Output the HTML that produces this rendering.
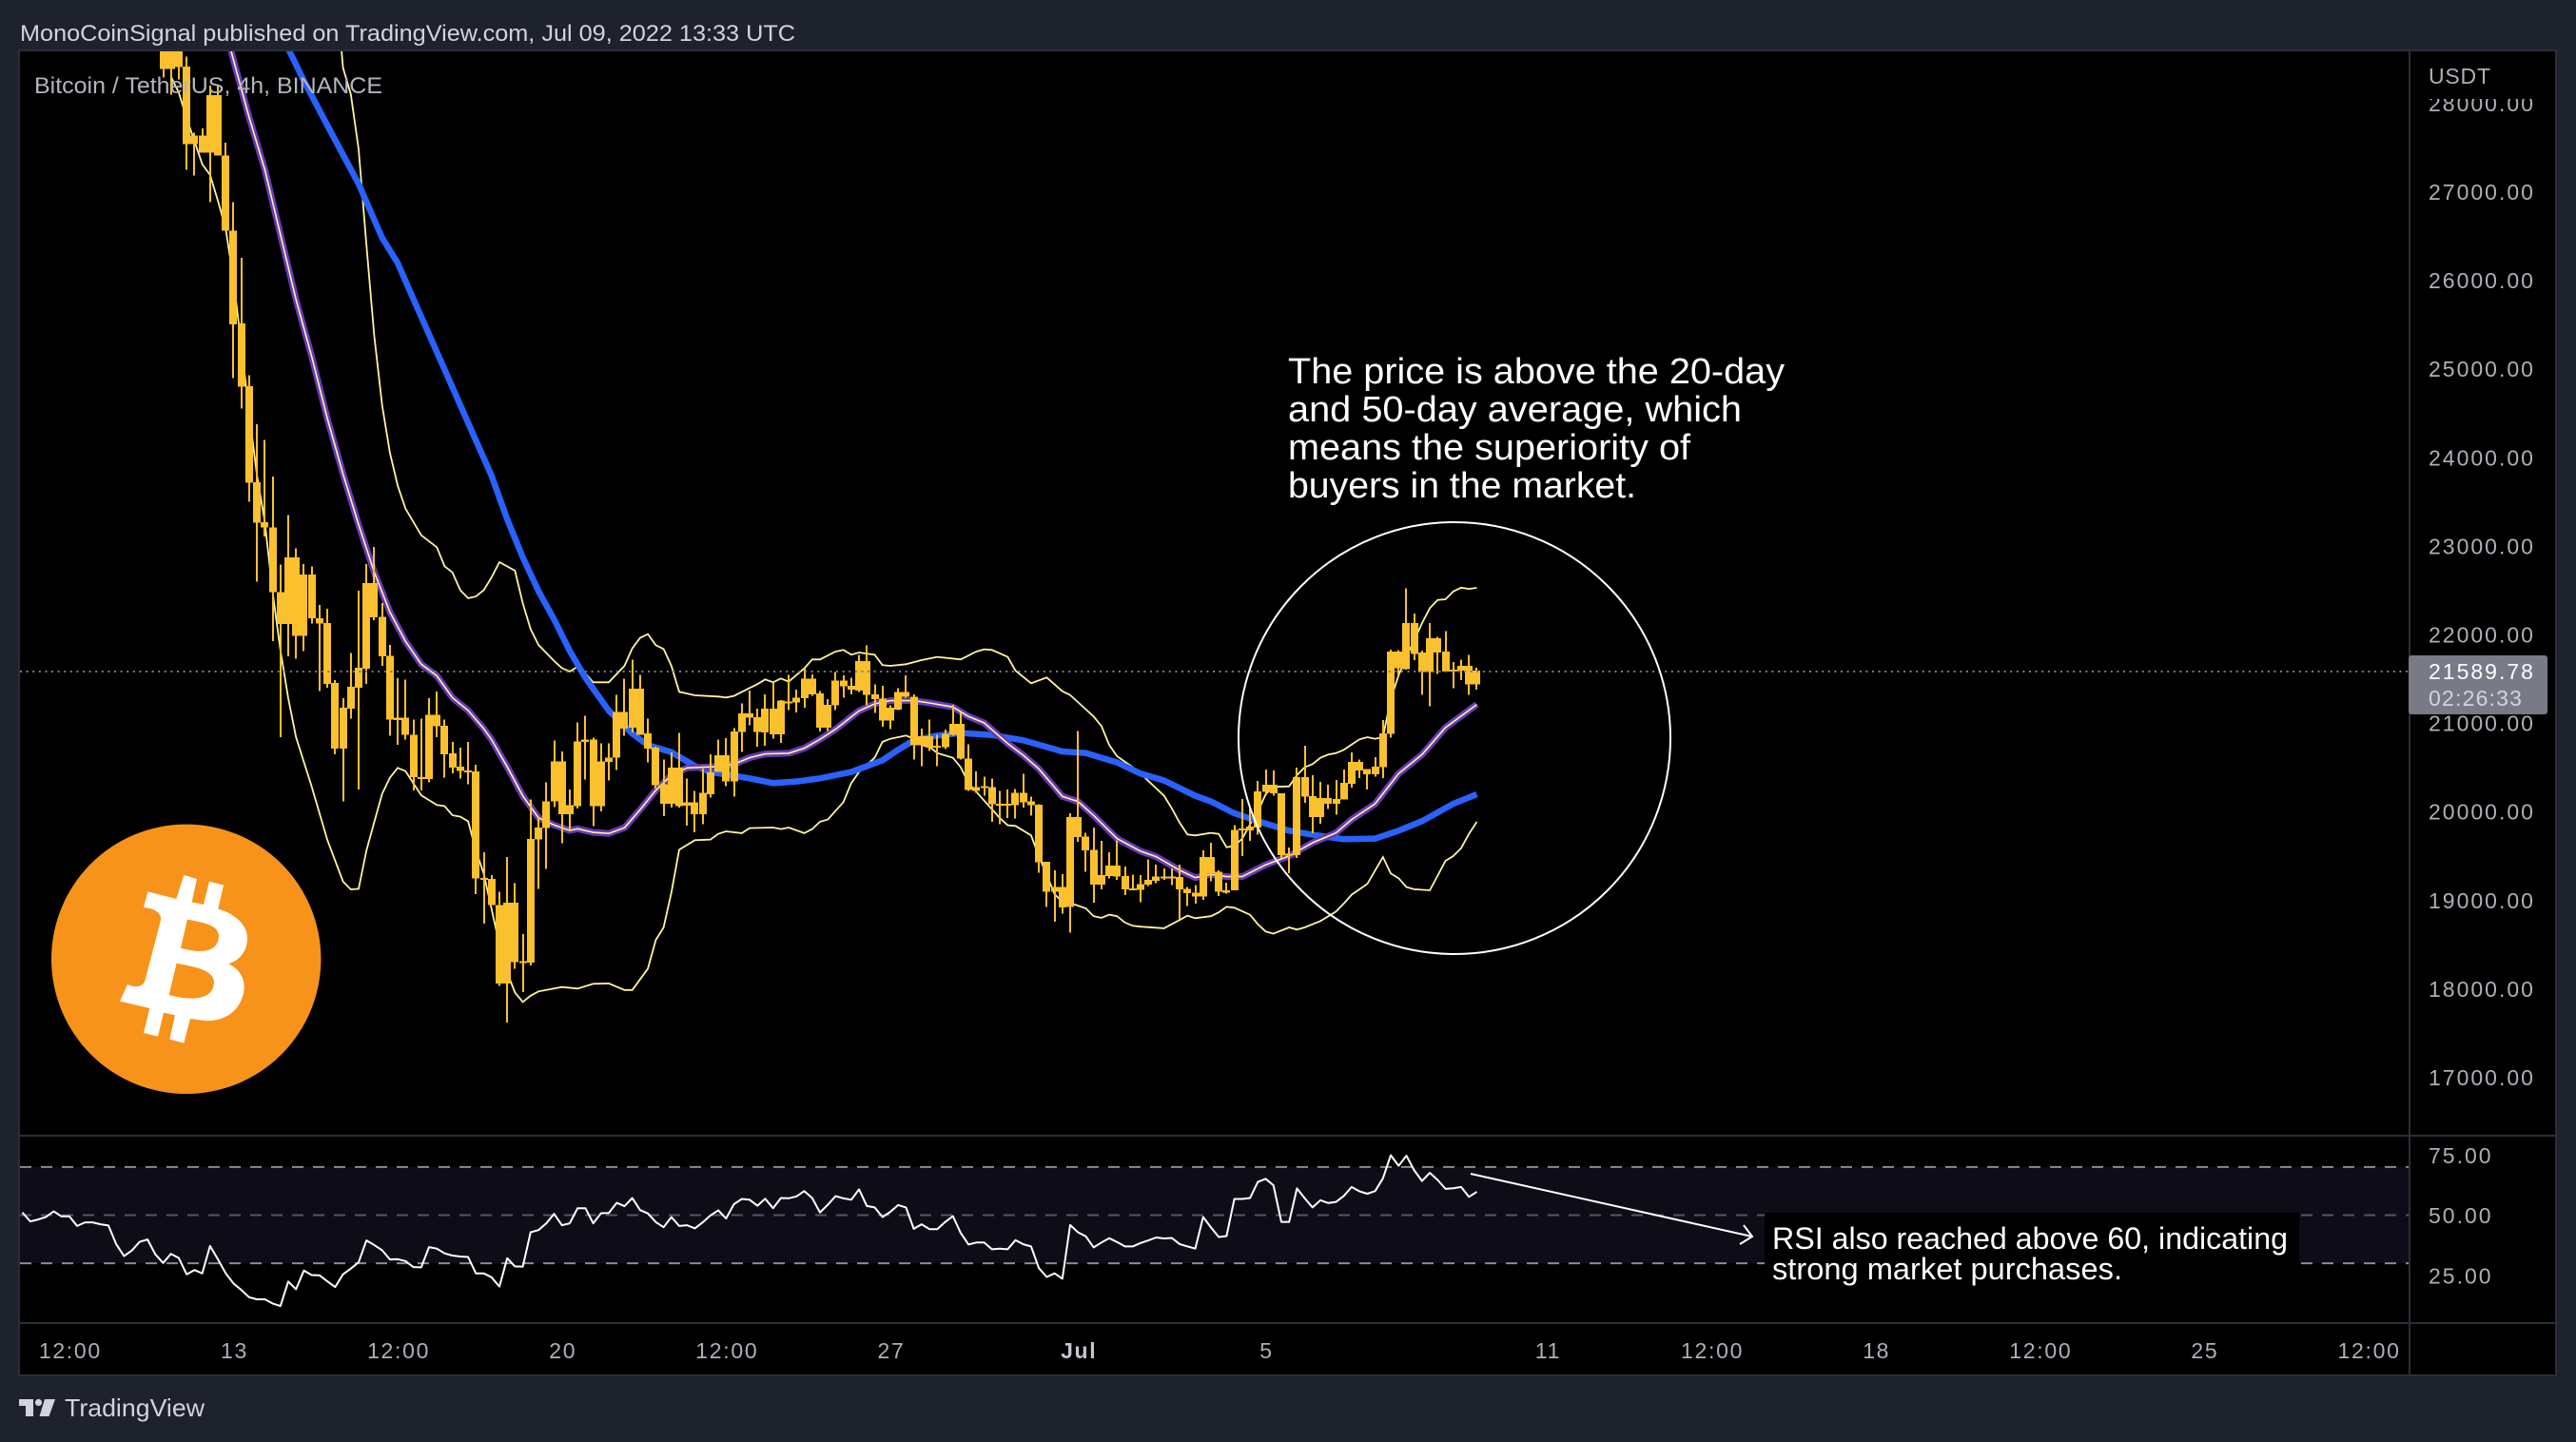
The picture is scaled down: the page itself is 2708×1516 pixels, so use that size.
<!DOCTYPE html>
<html lang="en">
<head>
<meta charset="utf-8">
<title>BTCUSDT 4h chart</title>
<style>
html,body{margin:0;padding:0;width:2708px;height:1516px;background:#1e222d;overflow:hidden}
svg{display:block;font-family:"Liberation Sans","DejaVu Sans",sans-serif}
.axis{font-size:23px;fill:#aeb0b8;letter-spacing:1.7px}
.axis-price{font-size:23px;fill:#aeb0b8;letter-spacing:2px}
.note{font-size:38px;fill:#fff}
.note2{font-size:32px;fill:#fff}
</style>
</head>
<body>
<svg id="chart" xmlns="http://www.w3.org/2000/svg" width="2708" height="1516" viewBox="0 0 2708 1516">
  <defs>
    <clipPath id="plotClip"><rect x="21" y="54" width="2512" height="1140"/></clipPath>
    <clipPath id="rsiClip"><rect x="21" y="1195" width="2512" height="196"/></clipPath>
  </defs>
  <rect x="0" y="0" width="2708" height="1516" fill="#1e222d"/>
  <text x="21" y="43" font-size="24" fill="#d1d4dc" textLength="815" lengthAdjust="spacingAndGlyphs">MonoCoinSignal published on TradingView.com, Jul 09, 2022 13:33 UTC</text>
  <rect x="20" y="53" width="2667" height="1393" fill="#000" stroke="#2a2e39" stroke-width="2"/>
  <rect x="21" y="1227" width="2512" height="101" fill="#0e0c17"/>
  <g id="rsiLevels"></g>
  <g id="lines" clip-path="url(#plotClip)"></g>
  <g id="candles" clip-path="url(#plotClip)" shape-rendering="crispEdges"></g>
  <line x1="21" y1="706" x2="2533" y2="706" stroke="#787b86" stroke-width="2" stroke-dasharray="2 4.6"/>
  <line x1="21" y1="1194" x2="2687" y2="1194" stroke="#2a2e39" stroke-width="2"/>
  <line x1="21" y1="1391" x2="2687" y2="1391" stroke="#2a2e39" stroke-width="2"/>
  <line x1="2533" y1="54" x2="2533" y2="1446" stroke="#2a2e39" stroke-width="2"/>
  <g id="priceAxis"></g>
  <rect x="2535" y="54" width="151" height="50" fill="#000"/>
  <text x="2553" y="88" font-size="23" fill="#aeb0b8" letter-spacing="0.8">USDT</text>
  <rect x="2532" y="689" width="146" height="62" rx="3" fill="#787b86"/>
  <text x="2553" y="714" font-size="23" fill="#fff" letter-spacing="2">21589.78</text>
  <text x="2553" y="742" font-size="23" fill="#d1d4dc" letter-spacing="1.2">02:26:33</text>
  <g id="rsiAxis"></g>
  <g id="timeAxis"></g>
  <text x="36" y="98" font-size="24" fill="#b2b5be" textLength="366" lengthAdjust="spacingAndGlyphs">Bitcoin / TetherUS, 4h, BINANCE</text>

  <g>
    <circle cx="195.7" cy="1008.3" r="141.7" fill="#f7931a"/>
    <path transform="translate(30 840) scale(0.3333)" fill="#fff" fill-rule="evenodd" d="M376,292 L466,315 L490,240 L531,252 L515,325 L552,333 L570,260 L615,272 L598,347 C650,362 690,395 690,440 C690,480 665,510 630,520 C665,535 682,565 680,600 C672,665 625,700 560,700 L510,693 L490,770 L445,758 L462,682 L426,674 L408,749 L363,738 L382,660 L288,638 L312,585 C335,595 362,595 368,570 L418,378 C415,355 395,345 363,342 Z M501,380 L480,470 C520,482 600,495 600,430 C598,395 540,388 501,380 Z M467,518 L443,618 C480,628 585,650 585,575 C580,535 510,528 467,518 Z"/>
  </g>

  <circle cx="1529" cy="776" r="227" fill="none" stroke="#fff" stroke-width="2"/>
  <g>
    <text class="note" x="1354" y="403" textLength="522" lengthAdjust="spacingAndGlyphs">The price is above the 20-day</text>
    <text class="note" x="1354" y="443" textLength="477" lengthAdjust="spacingAndGlyphs">and 50-day average, which</text>
    <text class="note" x="1354" y="483" textLength="423" lengthAdjust="spacingAndGlyphs">means the superiority of</text>
    <text class="note" x="1354" y="523" textLength="366" lengthAdjust="spacingAndGlyphs">buyers in the market.</text>
  </g>

  <g fill="none" stroke="#fff" stroke-width="2">
    <line x1="1546" y1="1234" x2="1842" y2="1300"/>
    <polyline points="1833,1288 1842,1300 1829,1308"/>
  </g>
  <rect x="1855" y="1275" width="562" height="84" fill="#000"/>
  <text class="note2" x="1863" y="1313" textLength="542" lengthAdjust="spacingAndGlyphs">RSI also reached above 60, indicating</text>
  <text class="note2" x="1863" y="1345" textLength="368" lengthAdjust="spacingAndGlyphs">strong market purchases.</text>

  <g fill="#d1d4dc">
    <path d="M20,1471 H35 V1489 H27 V1478 H20 Z"/>
    <circle cx="40.5" cy="1474.5" r="3.6"/>
    <path d="M47,1471 H58 L51.5,1489 H41.5 Z"/>
  </g>
  <text x="68" y="1489" font-size="26" fill="#d1d4dc" textLength="147" lengthAdjust="spacingAndGlyphs">TradingView</text>
</svg>
<script>
// Candlestick data, one entry per 4h bar (BTC/USDT)
const opens = [
29300,29300,29100,28412,27632,27632,28090,28090,27410,26561,
25512,24804,23720,23268,23210,22478,22869,22869,22676,22676,
22182,22129,21451,21171,21410,21623,22581,22581,22199,21759,
21060,21060,20867,20390,21093,21093,20970,20657,20505,20464,
20452,19251,19239,18943,18972,18972,18310,19691,19819,20115,
20567,20567,20073,20793,20814,20814,20567,20608,21122,21122,
21389,21389,20883,20723,20308,20497,20497,20106,20106,20209,
20443,20636,20636,20905,21109,21109,21066,21162,21162,21252,
21245,21288,21503,21503,21334,21205,21478,21478,21420,21700,
21700,21324,21277,21173,21352,21352,21299,20851,20851,20744,
20876,20991,20991,20600,20278,20285,20278,20088,20088,20214,
20214,20117,20078,19433,19147,19147,19938,19938,19720,19569,
19283,19390,19390,19272,19133,19183,19229,19265,19265,19265,
19262,19129,19086,19487,19487,19319,19111,19795,19809,19830,
20228,20303,20303,20206,19522,20389,20389,20174,20152,20152,
20142,20324,20560,20560,20478,20507,20883,21806,21806,22128,
22128,21796,21957,21957,21806,21602,21645,21645,21434];
const closes = [
28384,28384,28405,27535,27535,27438,27438,27406,26558,25502,
24796,23715,23260,23210,22478,22117,22117,21985,21985,22182,
22121,21442,20711,20711,21163,21397,21615,22191,21751,21040,
21031,20867,20390,20370,20370,20966,20649,20497,20456,20443,
19243,19231,18943,18059,18059,18297,18293,18293,19683,19815,
20115,19971,19971,20061,20785,20061,20061,20559,20608,20937,
20945,20867,20711,20300,20086,20086,20061,20065,19971,19971,
20197,20446,20339,20339,20901,21062,20901,20894,20872,20872,
21230,21230,21281,21324,20948,20948,21198,21413,21377,21367,
21316,21270,21026,21026,21152,21295,20751,20751,20722,20729,
20726,20865,20597,20242,20235,20271,20081,20074,20071,20071,
20106,20071,19426,19093,19097,18918,18925,19713,19562,19176,
19176,19272,19265,19122,19118,19115,19176,19219,19247,19251,
19122,19079,19040,19040,19301,19093,19086,19111,19787,19787,
19819,20220,20206,19508,19504,19508,20167,19938,19938,20088,
20088,20134,20313,20464,20421,20421,20500,20875,21617,21609,
21781,21574,21574,21796,21581,21588,21592,21434,21590];
const highs = [
29500,29500,29300,28527,27668,27714,28200,28205,27553,26884,
26253,24929,24374,24198,23782,22787,23350,22972,22795,22766,
22335,22289,21484,21278,21792,22495,22795,22988,22355,21882,
21504,21492,21040,21052,21278,21356,21040,20785,20723,20785,
20526,19539,19280,19095,19486,19190,18614,20135,19930,20332,
20805,20678,20250,21007,21081,20834,20772,20772,21319,21500,
21718,21545,21052,20731,20587,20670,20888,20373,20234,20484,
20649,20812,20830,20940,21223,21367,21162,21324,21456,21259,
21546,21377,21617,21549,21359,21270,21574,21538,21513,21771,
21878,21438,21420,21198,21395,21538,21324,20937,21038,20865,
20926,21205,21127,20762,20454,20393,20375,20232,20250,20257,
20429,20171,20081,19433,19337,19294,19981,20912,19759,19820,
19670,19541,19677,19380,19290,19283,19462,19398,19355,19355,
19398,19150,19168,19562,19648,19337,19194,19849,20142,20034,
20346,20475,20464,20206,19594,20496,20743,20410,20335,20303,
20356,20475,20668,20589,20482,20614,21033,21828,21824,22522,
22236,21817,22129,21975,22039,21688,21717,21771,21624];
const lows = [
28287,28097,28269,27249,27184,27438,26880,27406,26558,24893,
24553,23498,22594,23107,21923,20842,21751,21726,21812,22121,
21360,21401,20649,20115,21048,20250,21442,22162,21648,20855,
20752,20813,20238,20238,20328,20842,20382,20431,20374,20308,
19066,18737,18943,18030,17615,18223,17964,18264,19128,19354,
20053,19642,19786,20032,20361,19835,20003,20349,20472,20855,
20896,20867,20554,20258,19950,20045,20045,19839,19765,19855,
20156,20446,20285,20167,20672,20973,20733,20744,20822,20776,
21145,21120,21173,21306,20905,20912,21145,21288,21324,21349,
21198,21116,20958,20930,21145,21288,20586,20511,20686,20511,
20704,20858,20590,20232,20214,20178,19884,19856,19927,19920,
20046,19952,19308,18925,18757,18846,18631,19659,19319,18972,
19122,19247,19229,19057,19115,18979,19158,19193,19229,19168,
18782,18932,18961,19004,19211,19047,19075,19111,19497,19669,
19737,20185,20177,19472,19304,19476,20099,19755,19862,20027,
19963,20134,20270,20378,20249,20392,20378,20833,21538,21602,
21710,21316,21187,21552,21581,21395,21484,21316,21377];

// Indicator series, read at the bars where the line visibly bends
const ma20Bars = [7,9,11,13,15,17,19,21,23,25,27,29,31,33,35,37,39,41,42,44,46,48,50,52,53,55,57,59,61,63,65,67,69,71,73,75,77,80,82,84,86,89,91,93,96,98,101,103,105,108,110,112,115,117,119,122,125,127,130,132,134,136,138,141,144,147,150,152,155,158,161,164,168];
const ma20Values = [29150,28484,27839,27249,26515,25781,25137,24439,23812,23239,22705,22252,21923,21664,21533,21286,21142,20937,20813,20505,20176,19930,19847,19786,19806,19765,19753,19817,20020,20240,20411,20493,20500,20507,20536,20608,20651,20658,20715,20815,20930,21137,21216,21252,21252,21227,21180,21073,21001,20769,20636,20482,20171,20114,19956,19695,19552,19491,19337,19254,19290,19265,19265,19398,19498,19648,19759,19910,20088,20429,20643,20948,21209];

const ma50Bars = [14,16,18,21,23,25,28,30,32,34,36,38,40,42,44,46,48,50,52,54,57,60,62,65,68,70,72,75,78,81,84,88,92,94,96,99,102,106,110,115,118,122,125,128,132,134,137,140,144,147,151,155,158,161,165,168];
const ma50Values = [29000,28616,28251,27750,27417,27088,26479,26193,25790,25390,24990,24590,24190,23794,23301,22870,22490,22170,21815,21510,21140,20880,20750,20670,20515,20447,20418,20375,20321,20339,20375,20447,20579,20697,20804,20858,20887,20865,20804,20679,20661,20554,20429,20350,20178,20114,19981,19892,19784,19738,19687,19695,19784,19892,20088,20196];

const bbUpperBars = [22,23,24,25,26,27,28,29,30,31,33,35,36,37,38,39,40,41,42,43,45,46,47,48,50,51,52,53,54,55,57,59,60,61,62,63,64,65,66,68,71,72,73,75,76,77,78,79,80,82,83,84,86,87,88,89,91,92,93,95,97,99,102,104,105,106,108,109,111,113,115,116,119,120,121,122,124,125,128,129,130,131,132,134,135,136,137,138,139,140,141,142,144,145,146,147,148,149,150,151,152,153,154,155,156,157,158,159,160,161,162,163,164,165,166,167,168];
const bbUpperValues = [29400,28400,28100,27480,26400,25375,24590,24050,23680,23420,23120,22985,22770,22700,22500,22409,22429,22499,22643,22816,22720,22350,22060,21882,21700,21620,21581,21636,21560,21460,21460,21646,21843,21961,22004,21879,21836,21646,21352,21313,21299,21288,21306,21395,21438,21492,21460,21503,21467,21617,21717,21717,21807,21825,21771,21796,21771,21653,21646,21664,21710,21746,21717,21807,21832,21825,21746,21592,21449,21513,21359,21316,21073,20966,20751,20625,20500,20429,20178,20035,19874,19741,19730,19759,19748,19597,19612,19694,19855,19998,20195,20278,20285,20410,20500,20536,20607,20643,20661,20697,20757,20815,20840,20822,20840,21269,21538,21753,21932,22128,22297,22390,22397,22486,22529,22515,22526];

const bbLowerBars = [1,2,3,4,5,6,7,8,9,10,11,12,13,14,15,16,17,19,21,23,24,25,26,27,28,29,30,31,33,35,36,37,38,39,40,41,43,44,45,46,47,48,51,53,55,57,59,60,62,63,64,65,66,68,70,71,72,74,75,78,79,80,82,83,84,85,87,88,89,91,92,93,95,96,97,98,99,101,102,103,105,107,108,109,111,112,114,115,116,118,119,120,121,122,123,124,125,128,129,130,131,132,134,135,136,137,139,140,141,142,144,145,146,148,150,151,152,154,156,157,158,159,160,162,164,165,166,167,168];
const bbLowerValues = [28300,28120,27830,27570,27310,27190,26900,26580,26000,25270,24500,23800,23270,22478,21821,21280,20840,20280,19680,19210,19120,19128,19560,19880,20200,20382,20493,20456,20184,20074,20061,19958,19942,19889,19560,19300,18500,18182,17956,17850,17920,17969,18018,18001,18055,18059,17985,17985,18227,18549,18692,19086,19569,19677,19684,19748,19777,19756,19813,19820,19802,19820,19756,19802,19885,19910,20106,20321,20447,20608,20787,20822,20858,20822,20751,20733,20661,20608,20500,20321,20124,19927,19845,19838,19731,19498,19068,18979,18968,18907,18818,18800,18836,18818,18746,18710,18700,18682,18728,18775,18825,18796,18818,18861,18925,18914,18835,18728,18646,18621,18692,18667,18692,18764,18871,18961,19061,19183,19487,19301,19247,19147,19122,19111,19444,19498,19587,19748,19884];

// RSI, one value per bar starting at rsiFirstBar
const rsiFirstBar = -18;
const rsiValues = [
51.1,47.4,48.2,49.2,51.6,49.5,49.5,45.5,47.0,47.0,
46.2,45.7,37.9,33.0,35.3,38.9,39.9,33.7,30.1,33.9,
32.2,25.4,27.2,25.8,37.2,31.7,25.8,21.6,18.9,15.9,
15.0,15.0,13.3,12.2,22.4,19.2,27.0,25.1,25.0,22.5,
20.1,25.4,27.8,30.4,39.5,37.6,35.4,31.6,31.7,30.9,
28.4,28.3,36.7,36.1,34.1,33.2,32.8,32.6,25.8,25.8,
24.2,20.3,32.1,28.7,28.6,42.9,43.8,46.6,50.5,45.8,
46.6,52.9,52.9,46.6,50.8,50.9,55.1,53.7,57.1,52.1,
50.7,47.1,45.0,49.2,45.5,45.8,44.5,47.0,49.9,52.0,
48.6,54.6,56.7,56.4,53.9,56.8,52.9,57.1,57.0,57.8,
60.0,57.1,51.1,54.3,57.9,57.0,56.4,
60.7,53.8,53.2,49.2,51.4,54.2,53.2,44.3,46.2,44.2,
44.2,47.1,49.6,42.6,37.8,38.6,38.6,35.8,36.1,35.8,
39.6,37.9,37.0,28.0,24.3,25.8,23.6,45.9,42.9,41.2,
36.6,38.6,40.4,38.8,37.0,37.0,38.4,39.5,40.7,40.3,
40.5,38.0,37.0,36.1,49.2,44.9,40.9,41.3,56.7,56.7,
57.1,63.8,65.1,62.4,47.2,47.2,61.1,57.0,53.2,56.2,
55.0,55.5,58.0,61.7,59.9,58.9,60.0,65.3,74.9,70.5,
74.7,68.6,64.2,67.6,64.6,60.9,61.2,61.7,57.6,59.7];
const rsiLevels = [70,50,30];
const rsiLevelColors = ["#8b8a99","#55546a","#8b8a99"];

// Axis ticks
const priceTicks = [28000,27000,26000,25000,24000,23000,22000,21000,20000,19000,18000,17000];
const rsiTicks = [75,50,25];
const timeTickBars = [-12,9,30,51,72,93,117,141,177,198,219,240,261,282];
const timeTickLabels = ["12:00","13","12:00","20","12:00","27","Jul","5","11","12:00","18","12:00","25","12:00"];

// Axis functions
function xBar(i){ return 171.5 + 8.22 * i; }
function yPrice(p){ return 667 + (22000 - p) * 0.0931; }
function yRsi(v){ return 1277.5 + (50 - v) * 2.53; }

const NS = "http://www.w3.org/2000/svg";
function make(tag, parent){
  const node = document.createElementNS(NS, tag);
  parent.appendChild(node);
  return node;
}
function pathFrom(xs, ys){
  let d = "";
  for (let k = 0; k < xs.length; k++){
    d += (k ? "L" : "M") + xs[k].toFixed(1) + "," + ys[k].toFixed(1);
  }
  return d;
}
function seriesPath(bars, values){
  return pathFrom(bars.map(xBar), values.map(yPrice));
}

// RSI level lines
const levelGroup = document.getElementById("rsiLevels");
rsiLevels.forEach(function(level, k){
  const el = make("line", levelGroup);
  
  
  el.setAttribute("x1", 21);
  el.setAttribute("x2", 2533);
  el.setAttribute("y1", yRsi(level));
  el.setAttribute("y2", yRsi(level));
  el.setAttribute("stroke", rsiLevelColors[k]);
  el.setAttribute("stroke-width", 2);
  el.setAttribute("stroke-dasharray", "12 10");
});

// Indicator lines
const lineGroup = document.getElementById("lines");

const upperEl = make("path", lineGroup);


upperEl.setAttribute("d", seriesPath(bbUpperBars, bbUpperValues));
upperEl.setAttribute("fill", "none");
upperEl.setAttribute("stroke", "#fff59d");
upperEl.setAttribute("stroke-width", 1.8);

const lowerEl = make("path", lineGroup);


lowerEl.setAttribute("d", seriesPath(bbLowerBars, bbLowerValues));
lowerEl.setAttribute("fill", "none");
lowerEl.setAttribute("stroke", "#fff59d");
lowerEl.setAttribute("stroke-width", 1.8);

const ma50El = make("path", lineGroup);


ma50El.setAttribute("d", seriesPath(ma50Bars, ma50Values));
ma50El.setAttribute("fill", "none");
ma50El.setAttribute("stroke", "#2962ff");
ma50El.setAttribute("stroke-width", 6.5);

const ma20Outer = make("path", lineGroup);


ma20Outer.setAttribute("d", seriesPath(ma20Bars, ma20Values));
ma20Outer.setAttribute("fill", "none");
ma20Outer.setAttribute("stroke", "#673ab7");
ma20Outer.setAttribute("stroke-width", 7);

const ma20Inner = make("path", lineGroup);


ma20Inner.setAttribute("d", seriesPath(ma20Bars, ma20Values));
ma20Inner.setAttribute("fill", "none");
ma20Inner.setAttribute("stroke", "#fff59d");
ma20Inner.setAttribute("stroke-width", 1.6);

// RSI line
const rsiEl = make("path", document.getElementById("chart"));


rsiEl.setAttribute("d", pathFrom(rsiValues.map(function(v, k){ return xBar(rsiFirstBar + k); }), rsiValues.map(yRsi)));
rsiEl.setAttribute("fill", "none");
rsiEl.setAttribute("stroke", "#ffffff");
rsiEl.setAttribute("stroke-width", 2);
rsiEl.setAttribute("stroke-linejoin", "round");
rsiEl.setAttribute("clip-path", "url(#rsiClip)");
document.getElementById("chart").insertBefore(rsiEl, document.getElementById("lines"));

// Candles
const candleGroup = document.getElementById("candles");
opens.forEach(function(open, i){
  const cx = Math.round(xBar(i));
  const wick = make("rect", candleGroup);
  
  
  wick.setAttribute("x", cx - 1);
  wick.setAttribute("width", 2);
  wick.setAttribute("y", yPrice(highs[i]));
  wick.setAttribute("height", yPrice(lows[i]) - yPrice(highs[i]));
  wick.setAttribute("fill", "#fbc02d");

  const top = Math.max(open, closes[i]);
  const bottom = Math.min(open, closes[i]);
  const body = make("rect", candleGroup);
  
  
  body.setAttribute("x", cx - 4);
  body.setAttribute("width", 8);
  body.setAttribute("y", yPrice(top));
  body.setAttribute("height", Math.max(2, yPrice(bottom) - yPrice(top)));
  body.setAttribute("fill", "#fbc02d");
});

// Price axis labels
const priceGroup = document.getElementById("priceAxis");
priceTicks.forEach(function(p){
  const el = make("text", priceGroup);
  
  
  el.setAttribute("class", "axis-price");
  el.setAttribute("x", 2553);
  el.setAttribute("y", yPrice(p) + 8.5);
  el.textContent = p.toFixed(2);
});

// RSI axis labels
const rsiGroup = document.getElementById("rsiAxis");
rsiTicks.forEach(function(v){
  const el = make("text", rsiGroup);
  
  
  el.setAttribute("class", "axis-price");
  el.setAttribute("x", 2553);
  el.setAttribute("y", yRsi(v) + 8.5);
  el.textContent = v.toFixed(2);
});

// Time axis labels
const timeGroup = document.getElementById("timeAxis");
timeTickBars.forEach(function(bar, k){
  const el = make("text", timeGroup);
  
  
  el.setAttribute("class", "axis");
  el.setAttribute("x", xBar(bar) + 1);
  el.setAttribute("y", 1428);
  el.setAttribute("text-anchor", "middle");
  if (timeTickLabels[k] === "Jul"){
    el.setAttribute("font-weight", "bold");
    el.setAttribute("style", "fill:#c4c6cd");
  }
  el.textContent = timeTickLabels[k];
});
</script>
</body>
</html>
